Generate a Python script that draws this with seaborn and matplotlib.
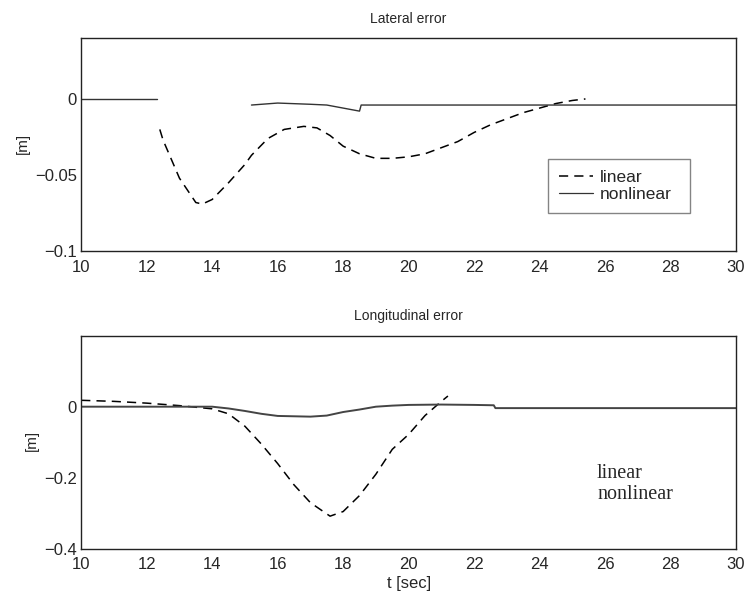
import numpy as np
import pandas as pd
import matplotlib.pyplot as plt
import seaborn as sns
from matplotlib.lines import Line2D

# values (t in sec, error in m)
lat_lin_t = [12.4, 12.5, 13.0, 13.5, 13.7, 14.0, 14.5, 15.0, 15.2, 15.7, 16.2, 16.8, 17.2,
             17.6, 18.0, 18.5, 19.0, 19.5, 20.0, 20.5, 21.0, 21.5, 22.0, 22.5, 23.0, 23.5,
             24.0, 24.5, 25.0, 25.4]
lat_lin_v = [-0.020, -0.027, -0.052, -0.068, -0.069, -0.066, -0.055, -0.043, -0.037, -0.026,
             -0.020, -0.018, -0.019, -0.024, -0.031, -0.036, -0.039, -0.039, -0.038, -0.036,
             -0.032, -0.028, -0.022, -0.017, -0.013, -0.009, -0.006, -0.003, -0.001, 0.000]
lat_nl_t = [10.0, 12.3, 13.7, 15.2, 16.0, 17.0, 17.5, 18.0, 18.5, 18.55, 30.0]
lat_nl_v = [0.0, 0.0, np.nan, -0.004, -0.0027, -0.0035, -0.004, -0.006, -0.008, -0.004, -0.004]

lon_lin_t = [10.0, 11.0, 12.0, 13.0, 14.0, 14.5, 15.0, 15.5, 16.0, 16.5, 17.0, 17.6, 18.0,
             18.5, 19.0, 19.5, 20.0, 20.5, 21.0, 21.2]
lon_lin_v = [0.018, 0.015, 0.010, 0.003, -0.006, -0.020, -0.055, -0.105, -0.160, -0.220,
             -0.270, -0.308, -0.295, -0.250, -0.190, -0.120, -0.078, -0.025, 0.015, 0.030]
lon_nl_t = [10.0, 14.0, 14.5, 15.0, 15.5, 16.0, 17.0, 17.5, 18.0, 18.5, 19.0, 19.5, 20.0,
            21.0, 22.0, 22.6, 22.65, 30.0]
lon_nl_v = [0.0, 0.0, -0.005, -0.012, -0.020, -0.026, -0.028, -0.025, -0.015, -0.008, 0.0,
            0.003, 0.005, 0.006, 0.005, 0.004, -0.004, -0.004]

xticks = list(range(10, 31, 2))

sns.set_style('white')
plt.rcParams['font.family'] = ['Liberation Sans', 'DejaVu Sans']


def segments(t, v):
    # split a series at NaN gaps so each piece is drawn separately
    df = pd.DataFrame({'t': t, 'v': v})
    df['seg'] = df['v'].isna().cumsum()
    return df.dropna()


def style_axes(ax, title, ylim, yticks, ylabels, ylab_x):
    ax.set_xlim(10, 30)
    ax.set_ylim(*ylim)
    ax.set_xticks(xticks)
    ax.set_yticks(yticks)
    ax.set_yticklabels(ylabels)
    ax.tick_params(direction='in', length=4, labelsize=12)
    ax.tick_params(axis='x', pad=6)
    ax.tick_params(axis='y', pad=3)
    ax.set_title(title, fontsize=10, pad=11)
    ax.set_ylabel('[m]', fontsize=11)
    ax.yaxis.set_label_coords(ylab_x, 0.507)
    for s in ax.spines.values():
        s.set_color('#222222')
        s.set_linewidth(1.0)


fig = plt.figure(figsize=(7.45, 5.94), dpi=100)
ax1 = fig.add_axes([0.109, 0.577, 0.879, 0.359])
ax2 = fig.add_axes([0.109, 0.076, 0.879, 0.359])

dash = (6, 4)

# lateral error
sns.lineplot(x=lat_lin_t, y=lat_lin_v, ax=ax1, color='black', lw=1.1,
             linestyle=(0, dash), estimator=None, sort=False)
nl = segments(lat_nl_t, lat_nl_v)
sns.lineplot(data=nl, x='t', y='v', units='seg', estimator=None, ax=ax1,
             color='#333333', lw=1.0, sort=False)
style_axes(ax1, 'Lateral error', (-0.1, 0.04), [-0.1, -0.05, 0],
           ['\u22120.1', '\u22120.05', '0'], -0.078)
ax1.set_xlabel('')

handles = [Line2D([], [], color='black', lw=1.1, linestyle=(0, dash)),
           Line2D([], [], color='#333333', lw=0.9)]
leg = ax1.legend(handles, ['linear', 'nonlinear'], loc='lower left',
                 bbox_to_anchor=(0.713, 0.18, 0.217, 0.31), mode='expand',
                 fancybox=False, fontsize=12.5, handlelength=2.0, borderpad=0.6,
                 labelspacing=0.15, handletextpad=0.4, borderaxespad=0)
leg.get_frame().set_edgecolor('#666666')
leg.get_frame().set_linewidth(1.0)

# longitudinal error
sns.lineplot(x=lon_lin_t, y=lon_lin_v, ax=ax2, color='black', lw=1.1,
             linestyle=(0, dash), estimator=None, sort=False)
sns.lineplot(x=lon_nl_t, y=lon_nl_v, ax=ax2, color='#444444', lw=1.4,
             estimator=None, sort=False)
style_axes(ax2, 'Longitudinal error', (-0.4, 0.2), [-0.4, -0.2, 0],
           ['\u22120.4', '\u22120.2', '0'], -0.064)
ax2.set_xlabel('t [sec]', fontsize=12, labelpad=3)

leg2 = ax2.legend([Line2D([], [], lw=0), Line2D([], [], lw=0)], ['linear', 'nonlinear'],
                  loc='center left', bbox_to_anchor=(0.76, 0.305), frameon=False,
                  handlelength=0, handletextpad=0, labelspacing=0.1,
                  prop={'family': 'Liberation Serif', 'size': 14.5})

plt.savefig('out.png', dpi=100)
